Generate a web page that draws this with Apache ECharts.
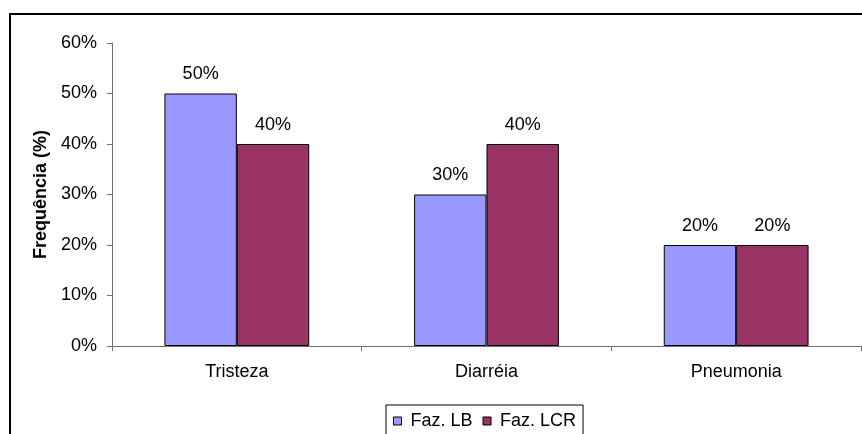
<!DOCTYPE html>
<html>
<head>
<meta charset="utf-8">
<script src="https://cdn.jsdelivr.net/npm/echarts@6/dist/echarts.min.js"></script>
<style>html,body{margin:0;padding:0;background:#fff}#c{width:862px;height:434px}</style>
</head>
<body>
<div id="c"></div>
<script>
const categories = ['Tristeza', 'Diarréia', 'Pneumonia'];
const seriesNames = ['Faz. LB', 'Faz. LCR'];
const valuesLB = [50, 30, 20];
const valuesLCR = [40, 40, 20];
const yTicks = [0, 10, 20, 30, 40, 50, 60];
const colors = ['#9999FF', '#993366'];

const chart = echarts.init(document.getElementById('c'), null, {renderer: 'canvas'});
const font = 'Arial, "Liberation Sans", sans-serif';
const labelStyle = {show: true, position: 'top', distance: 10, formatter: p => p.value + '%', color: '#000', fontSize: 18, fontFamily: font};
chart.setOption({
  animation: false,
  backgroundColor: '#fff',
  graphic: [{type: 'rect', shape: {x: 10, y: 14, width: 900, height: 500}, style: {fill: 'none', stroke: '#000', lineWidth: 2}, silent: true}],
  grid: {left: 112, right: 1, top: 43, bottom: 88, containLabel: false},
  legend: {
    top: 405, left: 386, data: seriesNames, orient: 'horizontal',
    itemWidth: 8, itemHeight: 8, itemGap: 10,
    borderColor: '#000', borderWidth: 1, padding: [7, 7, 20, 7],
    textStyle: {fontSize: 18, fontFamily: font, color: '#000', padding: [0, 0, 0, 4]},
    itemStyle: {borderColor: '#000', borderWidth: 1},
    icon: 'rect'
  },
  xAxis: {
    type: 'category', data: categories,
    axisLine: {lineStyle: {color: '#707070', width: 1}},
    axisTick: {show: true, alignWithLabel: false, length: 5, lineStyle: {color: '#707070'}},
    axisLabel: {margin: 17, fontSize: 18, fontFamily: font, color: '#000'}
  },
  yAxis: {
    type: 'value', min: yTicks[0], max: yTicks[yTicks.length - 1], interval: 10,
    name: 'Frequência (%)', nameLocation: 'middle', nameGap: 58,
    nameTextStyle: {fontSize: 18, fontWeight: 'bold', fontFamily: font, color: '#000'},
    axisLine: {show: true, lineStyle: {color: '#707070', width: 1}},
    axisTick: {show: true, length: 5, lineStyle: {color: '#707070'}},
    axisLabel: {formatter: '{value}%', margin: 15, fontSize: 18, fontFamily: font, color: '#000'},
    splitLine: {show: false}
  },
  series: [
    {name: seriesNames[0], type: 'bar', data: valuesLB, barGap: '0%', barCategoryGap: '42%',
     itemStyle: {color: colors[0], borderColor: '#000', borderWidth: 1}, label: labelStyle},
    {name: seriesNames[1], type: 'bar', data: valuesLCR, barGap: '0%', barCategoryGap: '42%',
     itemStyle: {color: colors[1], borderColor: '#000', borderWidth: 1}, label: labelStyle}
  ]
});
</script>
</body>
</html>
